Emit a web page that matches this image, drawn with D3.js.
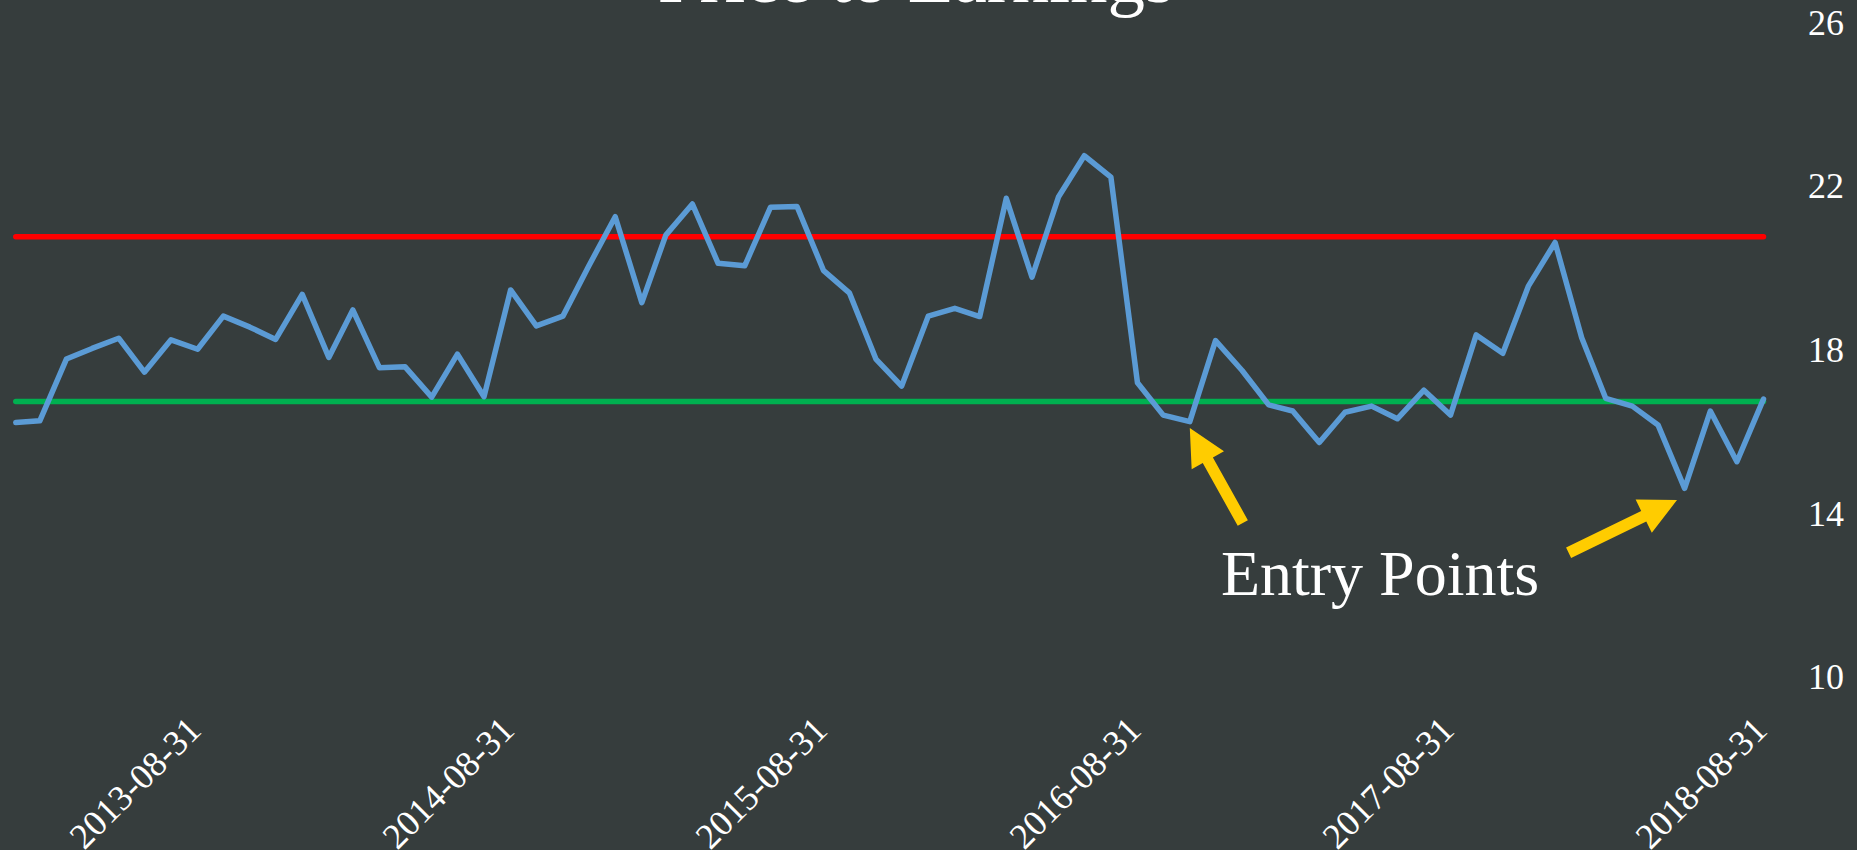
<!DOCTYPE html>
<html>
<head>
<meta charset="utf-8">
<script src="https://cdn.jsdelivr.net/npm/d3@7"></script>
<style>
	html, body { margin: 0; padding: 0; background: #363d3d; }
	svg { display: block; }
	text { font-family: "Liberation Serif", "Times New Roman", serif; fill: #fff; }
</style>
</head>
<body>
<svg id="chart"></svg>
<script>
// P/E ratio, monthly, Jan 2013 .. Aug 2018 (month end)
var peValues = [
	16.21, 16.25, 17.76, 18.02, 18.27, 17.44, 18.23, 18.00, 18.81, 18.54, 18.24, 19.34,
	17.80, 18.96, 17.55, 17.57, 16.83, 17.88, 16.84, 19.45, 18.57, 18.81, 20.03, 21.24,
	19.14, 20.79, 21.55, 20.10, 20.04, 21.47, 21.49, 19.92, 19.38, 17.76, 17.10, 18.81,
	19.00, 18.80, 21.69, 19.76, 21.73, 22.73, 22.21, 17.18, 16.39, 16.23, 18.21, 17.48,
	16.64, 16.49, 15.72, 16.46, 16.61, 16.30, 17.00, 16.39, 18.35, 17.90, 19.55, 20.61,
	18.28, 16.80, 16.61, 16.15, 14.60, 16.49, 15.25, 16.78
];
var firstMonth = new Date(2013, 0, 1);

// horizontal reference levels
var upperLevel = 20.75;
var lowerLevel = 16.72;

var yTicks = [10, 14, 18, 22, 26];
var xTickLabels = ['2013-08-31', '2014-08-31', '2015-08-31', '2016-08-31', '2017-08-31', '2018-08-31'];

var titleText = 'Price to Earnings';
var noteText = 'Entry Points';

// arrows point at these data dates
var arrowTargets = ['2016-10-31', '2018-05-31'];

// month end dates for each value
var dates = peValues.map(function(v, i) {
	return d3.timeDay.offset(d3.timeMonth.offset(firstMonth, i + 1), -1);
});
var data = peValues.map(function(v, i) { return {date: dates[i], v: v}; });

var width = 1857, height = 850;
var parse = d3.timeParse('%Y-%m-%d');
var fmt = d3.timeFormat('%Y-%m-%d');

var svg = d3.select('#chart')
	.attr('width', width)
	.attr('height', height);

svg.append('rect')
	.attr('width', width)
	.attr('height', height)
	.attr('fill', '#363d3d');

var x = d3.scaleTime()
	.domain(d3.extent(dates))
	.range([15.8, 1763.5]);

var y = d3.scaleLinear()
	.domain([10, 26])
	.range([676.5, 22]);

// title, mostly outside the top edge
svg.append('text')
	.attr('x', 916)
	.attr('y', 2)
	.attr('text-anchor', 'middle')
	.style('font-size', '75px')
	.text(titleText);

// y axis on the right
var yAxis = svg.append('g')
	.attr('transform', 'translate(1808,0)')
	.call(d3.axisRight(y).tickValues(yTicks).tickSize(0).tickPadding(0));
yAxis.select('.domain').remove();
yAxis.selectAll('text')
	.attr('x', 0)
	.attr('dy', '0.34em')
	.style('font-size', '36px')
	.style('font-family', '"Liberation Serif", serif')
	.attr('fill', '#fff');

// x axis, rotated labels
var xAxis = svg.append('g')
	.attr('transform', 'translate(0,732)')
	.call(d3.axisBottom(x)
		.tickValues(xTickLabels.map(parse))
		.tickFormat(fmt)
		.tickSize(0));
xAxis.select('.domain').remove();
xAxis.selectAll('text')
	.attr('x', 0)
	.attr('y', 0)
	.attr('dy', 0)
	.attr('transform', 'translate(5,0) rotate(-45)')
	.attr('text-anchor', 'end')
	.style('font-size', '36px')
	.style('font-family', '"Liberation Serif", serif')
	.attr('fill', '#fff');

var xEnds = d3.extent(dates);

// reference levels
svg.selectAll('line.level')
	.data([{v: upperLevel, c: '#ff0000'}, {v: lowerLevel, c: '#00b050'}])
	.enter().append('line')
	.attr('class', 'level')
	.attr('x1', x(xEnds[0]))
	.attr('x2', x(xEnds[1]))
	.attr('y1', function(d) { return y(d.v); })
	.attr('y2', function(d) { return y(d.v); })
	.attr('stroke', function(d) { return d.c; })
	.attr('stroke-width', 5.5)
	.attr('stroke-linecap', 'round');

var line = d3.line()
	.x(function(d) { return x(d.date); })
	.y(function(d) { return y(d.v); });

svg.append('path')
	.datum(data)
	.attr('d', line)
	.attr('fill', 'none')
	.attr('stroke', '#5b9bd5')
	.attr('stroke-width', 5.5)
	.attr('stroke-linejoin', 'round')
	.attr('stroke-linecap', 'round');

// arrows: tip offset from the point and tail offset from the point, in px
var arrowOffsets = [
	{tip: [0, 6.3], tail: [53, 101.3]},
	{tip: [-7.6, 11.7], tail: [-116, 64.4]}
];

function arrowPath(tip, tail) {
	var dx = tip[0] - tail[0], dy = tip[1] - tail[1];
	var len = Math.sqrt(dx * dx + dy * dy);
	var ux = dx / len, uy = dy / len;
	var px = -uy, py = ux;
	var headLen = 37, headW = 18.5, shaftW = 5.8;
	var bx = tip[0] - ux * headLen, by = tip[1] - uy * headLen;
	var pts = [
		[tail[0] + px * shaftW, tail[1] + py * shaftW],
		[bx + px * shaftW, by + py * shaftW],
		[bx + px * headW, by + py * headW],
		tip,
		[bx - px * headW, by - py * headW],
		[bx - px * shaftW, by - py * shaftW],
		[tail[0] - px * shaftW, tail[1] - py * shaftW]
	];
	return 'M' + pts.map(function(p) { return p[0] + ',' + p[1]; }).join('L') + 'Z';
}

arrowTargets.forEach(function(ds, i) {
	var t = parse(ds);
	var d = data.find(function(e) { return fmt(e.date) == ds; });
	var px = x(t), py = y(d.v);
	var o = arrowOffsets[i];
	svg.append('path')
		.attr('d', arrowPath([px + o.tip[0], py + o.tip[1]], [px + o.tail[0], py + o.tail[1]]))
		.attr('fill', '#ffcc00');
});

svg.append('text')
	.attr('x', 1380)
	.attr('y', 595)
	.attr('text-anchor', 'middle')
	.style('font-size', '64px')
	.text(noteText);
</script>
</body>
</html>
